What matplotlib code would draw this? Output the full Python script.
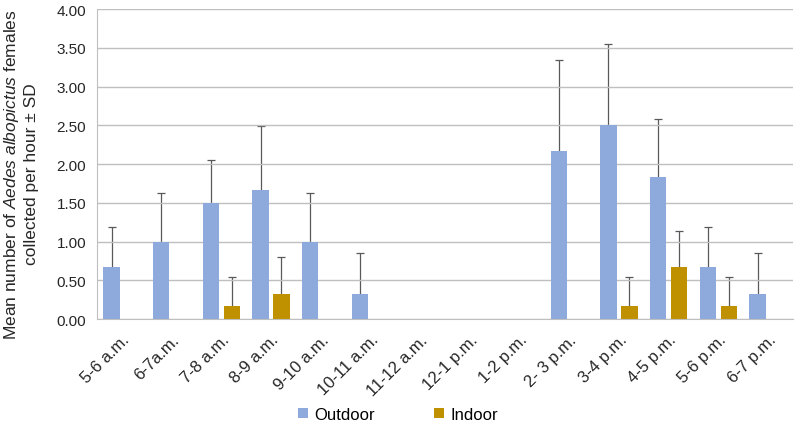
import numpy as np
import matplotlib.pyplot as plt

plt.rcParams['font.family'] = ['Liberation Sans', 'DejaVu Sans']
plt.rcParams['mathtext.fontset'] = 'custom'
plt.rcParams['mathtext.rm'] = 'Liberation Sans'
plt.rcParams['mathtext.it'] = 'Liberation Sans:italic'

hours = ['5-6 a.m.', '6-7a.m.', '7-8 a.m.', '8-9 a.m.', '9-10 a.m.', '10-11 a.m.',
         '11-12 a.m.', '12-1 p.m.', '1-2 p.m.', '2- 3 p.m.', '3-4 p.m.', '4-5 p.m.',
         '5-6 p.m.', '6-7 p.m.']
outdoor = [0.67, 1.00, 1.50, 1.67, 1.00, 0.33, 0, 0, 0, 2.17, 2.50, 1.83, 0.67, 0.33]
outdoor_sd = [0.52, 0.63, 0.55, 0.82, 0.63, 0.52, 0, 0, 0, 1.17, 1.05, 0.75, 0.52, 0.52]
indoor = [0, 0, 0.17, 0.33, 0, 0, 0, 0, 0, 0, 0.17, 0.67, 0.17, 0]
indoor_sd = [0, 0, 0.37, 0.47, 0, 0, 0, 0, 0, 0, 0.37, 0.47, 0.37, 0]

x = np.arange(len(hours))
w = 0.33

fig = plt.figure(figsize=(7.96, 4.27), dpi=100)
ax = fig.add_axes([0.122, 0.25, 0.874, 0.726])

ax.bar(x - 0.21, outdoor, w, color='#8EA9DB', label='Outdoor', zorder=2)
ax.bar(x + 0.21, indoor, w, color='#BF9000', label='Indoor', zorder=2)


def upper_err(xpos, vals, sd):
    vals = np.array(vals)
    sd = np.array(sd)
    m = sd > 0
    _, caps, _ = ax.errorbar(xpos[m], vals[m], yerr=[np.zeros(m.sum()), sd[m]],
                             fmt='none', ecolor='#595959', elinewidth=0.9,
                             capsize=3, capthick=0.9, zorder=1.5)
    caps[0].set_visible(False)


upper_err(x - 0.21, outdoor, outdoor_sd)
upper_err(x + 0.21, indoor, indoor_sd)

ax.set_xlim(-0.5, len(hours) - 0.5)
ax.set_ylim(0, 4)
ax.set_yticks(np.arange(0, 4.01, 0.5))
ax.set_yticklabels([f'{v:.2f}' for v in np.arange(0, 4.01, 0.5)], fontsize=11)
ax.set_xticks(x)
ax.set_xticklabels(hours, rotation=45, ha='right', rotation_mode='anchor', fontsize=12)
ax.tick_params(axis='both', length=0, colors='#262626')
ax.tick_params(axis='x', pad=9)
ax.tick_params(axis='y', pad=8)
ax.grid(axis='y', color='#BFBFBF', linewidth=1, zorder=0)
for s in ['top', 'right']:
    ax.spines[s].set_visible(False)
ax.spines['left'].set_color('#BFBFBF')
ax.spines['bottom'].set_color('#BFBFBF')

ax.set_ylabel('Mean number of $\\it{Aedes}$ $\\it{albopictus}$ females\ncollected per hour ± SD',
              fontsize=12.5, color='#262626', linespacing=1.3)
ax.yaxis.set_label_coords(-0.083, 0.47)

fig.legend(loc='lower center', bbox_to_anchor=(0.5, -0.025), ncol=2, frameon=False,
           fontsize=12, handlelength=0.6, handleheight=0.6, columnspacing=3.5,
           handletextpad=0.4)

fig.savefig('out.png', dpi=100)
